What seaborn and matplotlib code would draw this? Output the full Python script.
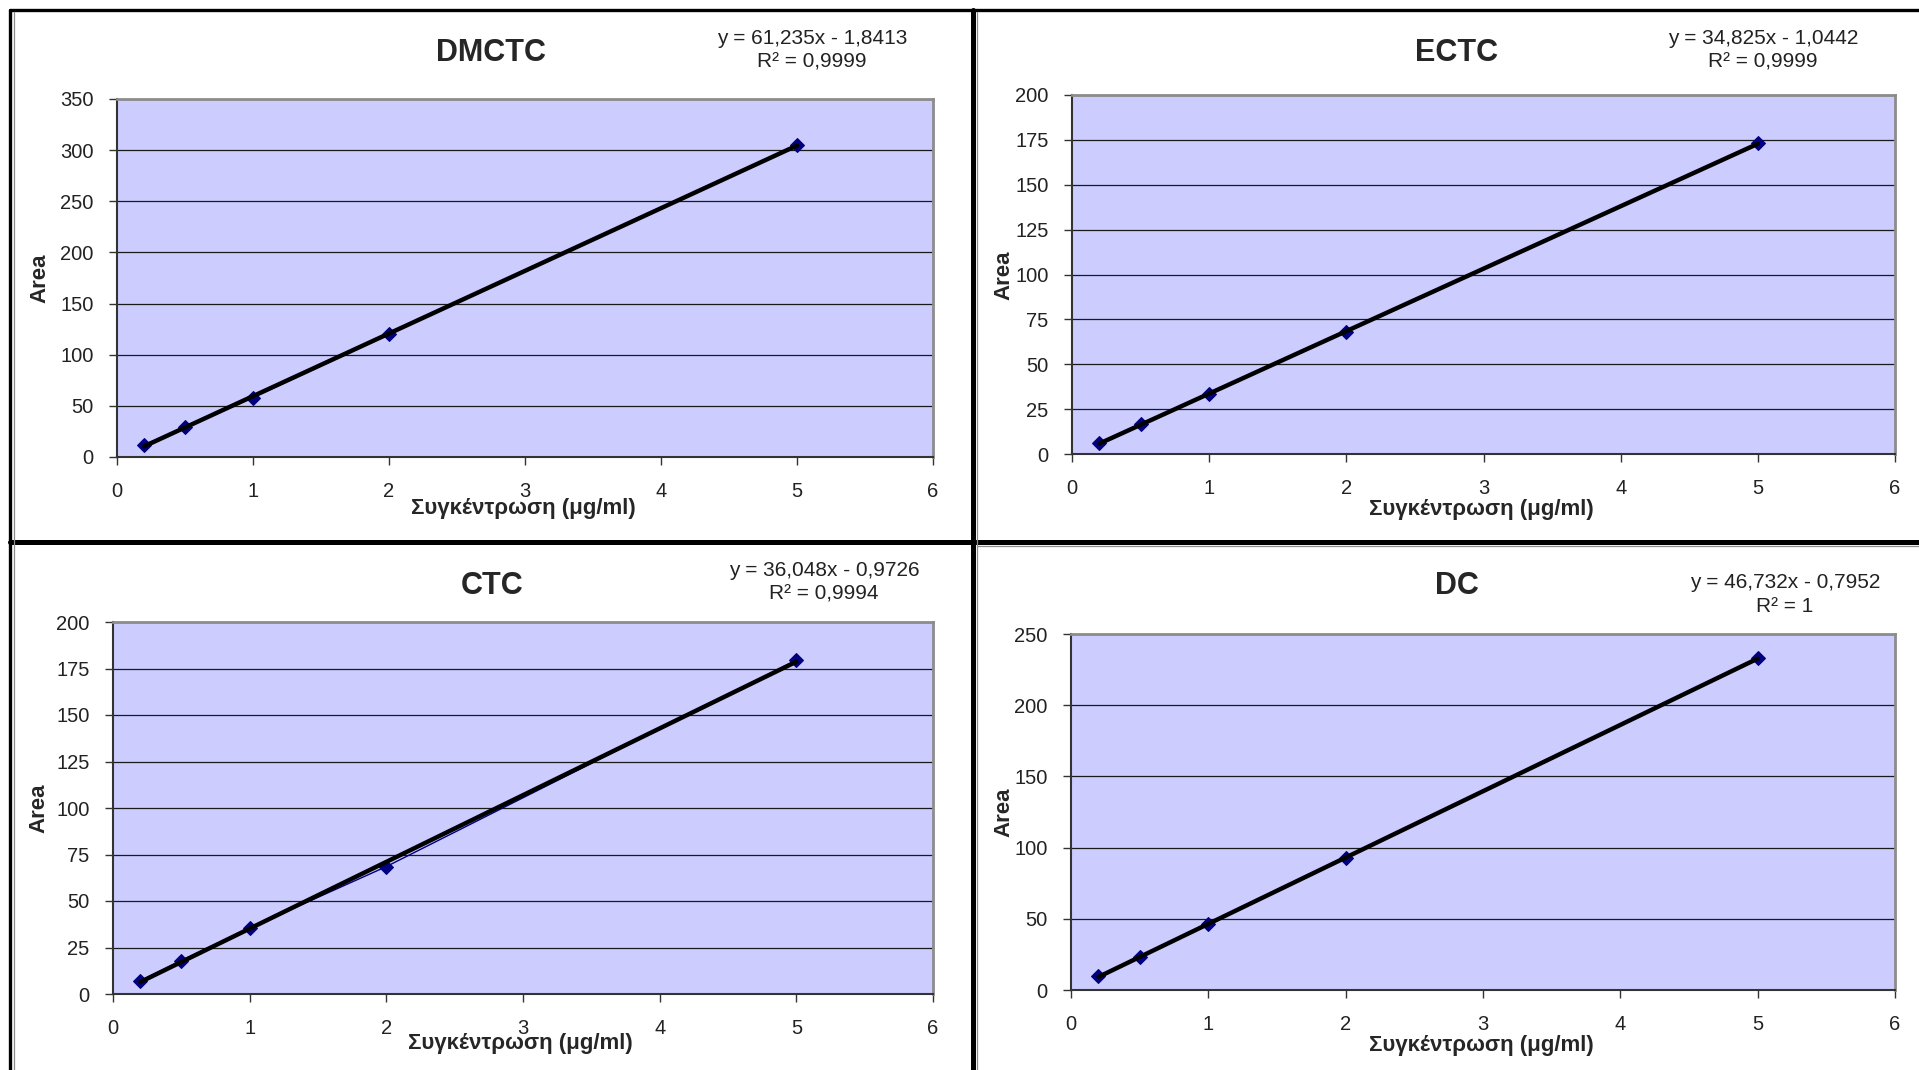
import seaborn as sns
import matplotlib.pyplot as plt
from matplotlib.lines import Line2D

# data
conc = [0.2, 0.5, 1, 2, 5]
dmctc_area = [12, 29, 58, 120, 305]
ectc_area = [6, 16.5, 33.5, 68, 173]
ctc_area = [7, 18, 35.5, 68.5, 179.5]
dc_area = [10, 23, 46, 92.5, 233]

titles = ["DMCTC", "ECTC", "CTC", "DC"]
equations = ["y = 61,235x - 1,8413", "y = 34,825x - 1,0442",
             "y = 36,048x - 0,9726", "y = 46,732x - 0,7952"]
r2_labels = ["R² = 0,9999", "R² = 0,9999", "R² = 0,9994", "R² = 1"]
y_max = [350, 200, 200, 250]
y_step = [50, 25, 25, 50]
x_ticks = [0, 1, 2, 3, 4, 5, 6]

sns.set_style("white")
plt.rcParams["font.family"] = ["Liberation Sans", "DejaVu Sans"]

W, H = 1919, 1070
fig = plt.figure(figsize=(W / 100, H / 100), dpi=100)

# plot boxes in pixels: left, right, top, bottom
boxes = [(117, 933, 99, 457), (1072, 1895, 95, 454),
         (113, 933, 622, 994), (1071, 1895, 634, 990)]
title_pos = [(491, 53), (1457, 53), (492, 586), (1457, 586)]
eq_pos = [(812, 38), (1763, 38), (824, 570), (1785, 583)]
ylab_pos = [(40, 278), (1004, 275), (39, 808), (1004, 812)]
xlab_pos = [(523, 509), (1481, 510), (520, 1044), (1481, 1045)]

series = [dmctc_area, ectc_area, ctc_area, dc_area]


def fx(px):
    return px / W


def fy(py):
    return 1 - py / H


for i, area in enumerate(series):
    l, r, t, b = boxes[i]
    ax = fig.add_axes([fx(l), fy(b), (r - l) / W, (b - t) / H])
    ax.set_facecolor("#CCCCFF")

    sns.lineplot(x=conc, y=area, ax=ax, color="#000080", lw=1,
                 marker="D", markersize=7.5, markeredgecolor="#000080", zorder=3)
    sns.regplot(x=conc, y=area, ax=ax, ci=None, scatter=False, truncate=True,
                line_kws=dict(color="black", lw=3.2, zorder=4))

    ax.set_xlim(0, 6)
    ax.set_ylim(0, y_max[i])
    ax.set_xticks(x_ticks)
    ax.set_yticks(range(0, y_max[i] + 1, y_step[i]))
    ax.grid(axis="y", color="#1a1a1a", lw=0.9)
    ax.grid(axis="x", visible=False)
    ax.set_axisbelow(True)
    ax.set_xlabel("")
    ax.set_ylabel("")
    ax.tick_params(axis="both", direction="out", length=6, width=1,
                   color="#333333", labelsize=14.5, labelcolor="#222222")
    ax.tick_params(axis="x", pad=12)
    ax.tick_params(axis="y", pad=11)
    ax.tick_params(bottom=True, left=True)
    for side in ["left", "bottom"]:
        ax.spines[side].set_color("#333333")
        ax.spines[side].set_linewidth(1.5)
    for side in ["top", "right"]:
        ax.spines[side].set_color("#8c8c8c")
        ax.spines[side].set_linewidth(2)

    tx, ty = title_pos[i]
    fig.text(fx(tx), fy(ty), titles[i], ha="center", va="center",
             fontsize=22, fontweight="bold")
    ex, ey = eq_pos[i]
    fig.text(fx(ex), fy(ey), equations[i], ha="center", va="center",
             fontsize=15, color="#222222")
    fig.text(fx(ex), fy(ey + 24), r2_labels[i], ha="center", va="center",
             fontsize=15, color="#222222")
    lx, ly = ylab_pos[i]
    fig.text(fx(lx), fy(ly), "Area", ha="center", va="center",
             rotation=90, fontsize=16, fontweight="bold")
    xx, xy = xlab_pos[i]
    fig.text(fx(xx), fy(xy), "Συγκέντρωση (μg/ml)", ha="center",
             va="center", fontsize=16, fontweight="bold")

# chart frames
frame_lines = [
    ([10, 10], [10, H], 2.4),
    ([10, W], [10, 10], 2.4),
    ([973, 973], [10, H], 3.6),
    ([10, W], [542, 542], 3.6),
]
for xs, ys, lw in frame_lines:
    fig.add_artist(Line2D([fx(v) for v in xs], [fy(v) for v in ys],
                          color="black", lw=lw))
for xs, ys in [([14, 14], [12, H]), ([977, 977], [12, H]),
               ([977, W], [546, 546])]:
    fig.add_artist(Line2D([fx(v) for v in xs], [fy(v) for v in ys],
                          color="#8c8c8c", lw=0.9))

fig.savefig("out.png", dpi=100, facecolor="white")
